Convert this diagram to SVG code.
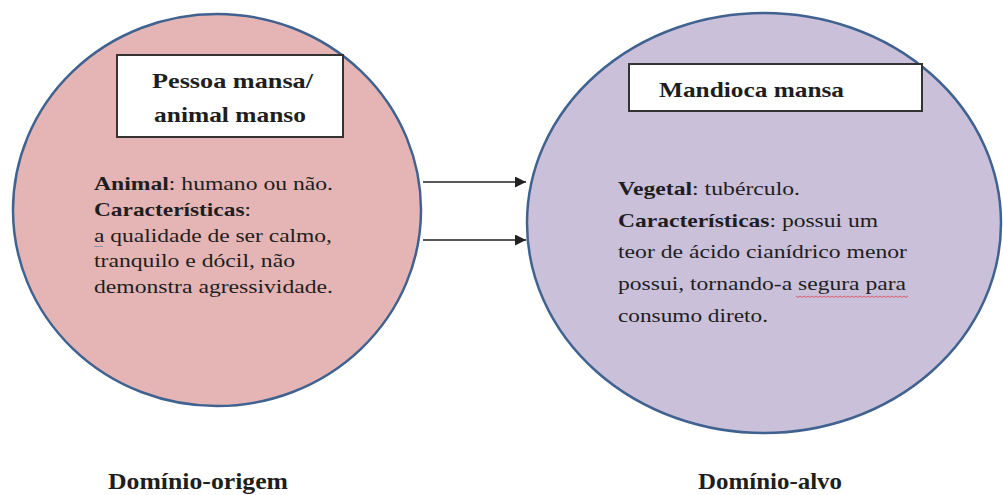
<svg xmlns="http://www.w3.org/2000/svg" width="1003" height="495" viewBox="0 0 1003 495">
<defs>
<style>
.circ{stroke:#3F6290;stroke-width:2.5}
.box{fill:#fff;stroke:#333;stroke-width:2}
.t{fill:#1e1e1e;font-family:"Liberation Serif","Times New Roman",Times,serif}
.title{font-size:21px;font-weight:bold}
.body{font-size:19px}
.b{font-weight:bold}
.lbl{font-size:23px;font-weight:bold}
.conn{stroke:#222;stroke-width:1.6;fill:none}
</style>
<marker id="ah" viewBox="0 0 10 10" refX="10" refY="5" markerWidth="14" markerHeight="11" markerUnits="userSpaceOnUse" orient="auto">
<path d="M0,0 L10,5 L0,10 z" fill="#222"/>
</marker>
</defs>
<rect width="1003" height="495" fill="#fff"/>
<g id="node-origem">
<ellipse class="circ" cx="217" cy="210" rx="204" ry="196" fill="#E5B5B5"/>
<rect class="box" x="117" y="55" width="226" height="82"/>
<text class="t title" x="152" y="88" textLength="161" lengthAdjust="spacingAndGlyphs">Pessoa mansa/</text>
<text class="t title" x="154" y="122" textLength="152" lengthAdjust="spacingAndGlyphs">animal manso</text>
<text class="t body" x="94" y="190" textLength="239" lengthAdjust="spacingAndGlyphs"><tspan class="b">Animal</tspan>: humano ou não.</text>
<text class="t body" x="94" y="216" textLength="157" lengthAdjust="spacingAndGlyphs"><tspan class="b">Características</tspan>:</text>
<text class="t body" x="94" y="242" textLength="238" lengthAdjust="spacingAndGlyphs">a qualidade de ser calmo,</text>
<line x1="94" y1="246.5" x2="103" y2="246.5" stroke="#8a94a8" stroke-width="1"/>
<text class="t body" x="94" y="267" textLength="201" lengthAdjust="spacingAndGlyphs">tranquilo e dócil, não</text>
<text class="t body" x="94" y="293" textLength="239" lengthAdjust="spacingAndGlyphs">demonstra agressividade.</text>
</g>
<g id="node-alvo">
<ellipse class="circ" cx="764" cy="223" rx="237" ry="210" fill="#CBC0DA"/>
<rect class="box" x="629" y="64" width="293" height="47"/>
<text class="t title" x="659" y="97" textLength="185" lengthAdjust="spacingAndGlyphs">Mandioca mansa</text>
<text class="t body" x="618" y="195" textLength="182" lengthAdjust="spacingAndGlyphs"><tspan class="b">Vegetal</tspan>: tubérculo.</text>
<text class="t body" x="618" y="227" textLength="260" lengthAdjust="spacingAndGlyphs"><tspan class="b">Características</tspan>: possui um</text>
<text class="t body" x="618" y="258" textLength="289" lengthAdjust="spacingAndGlyphs">teor de ácido cianídrico menor</text>
<text class="t body" x="618" y="290" textLength="288" lengthAdjust="spacingAndGlyphs">possui, tornando-a segura para</text>
<path d="M796,296 l2,1.5 l2,-1.5 l2,1.5 l2,-1.5 l2,1.5 l2,-1.5 l2,1.5 l2,-1.5 l2,1.5 l2,-1.5 l2,1.5 l2,-1.5 l2,1.5 l2,-1.5 l2,1.5 l2,-1.5 l2,1.5 l2,-1.5 l2,1.5 l2,-1.5 l2,1.5 l2,-1.5 l2,1.5 l2,-1.5 l2,1.5 l2,-1.5 l2,1.5 l2,-1.5 l2,1.5 l2,-1.5 l2,1.5 l2,-1.5 l2,1.5 l2,-1.5 l2,1.5 l2,-1.5 l2,1.5 l2,-1.5 l2,1.5 l2,-1.5 l2,1.5 l2,-1.5 l2,1.5 l2,-1.5 l2,1.5 l2,-1.5 l2,1.5 l2,-1.5 l2,1.5 l2,-1.5 l2,1.5 l2,-1.5 l2,1.5 l2,-1.5 l2,1.5 l2,-1.5" fill="none" stroke="#d9505a" stroke-width="0.9"/>
<text class="t body" x="618" y="322" textLength="150" lengthAdjust="spacingAndGlyphs">consumo direto.</text>
</g>
<g id="connectors">
<line class="conn" x1="423" y1="182" x2="526" y2="182" marker-end="url(#ah)"/>
<line class="conn" x1="423" y1="240" x2="526" y2="240" marker-end="url(#ah)"/>
</g>
<g id="labels">
<text class="t lbl" x="108" y="489" textLength="180" lengthAdjust="spacingAndGlyphs">Domínio-origem</text>
<text class="t lbl" x="698" y="489" textLength="144" lengthAdjust="spacingAndGlyphs">Domínio-alvo</text>
</g>
</svg>
